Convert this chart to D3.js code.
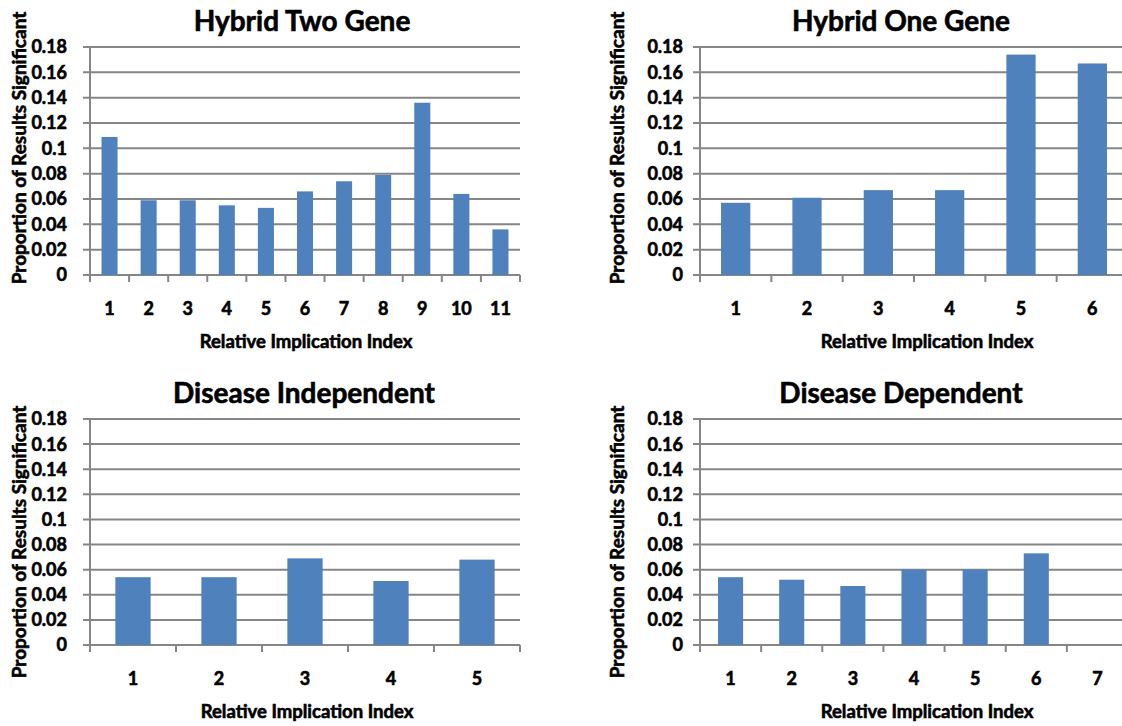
<!DOCTYPE html>
<html>
<head>
<meta charset="utf-8">
<script src="https://cdn.jsdelivr.net/npm/d3@7"></script>
<style>
  html, body { margin: 0; padding: 0; background: #fff; }
  svg { display: block; }
  text { font-family: Lato, "Open Sans", sans-serif; font-weight: bold; fill: #000; stroke: #000; stroke-width: 0.6px; }
</style>
</head>
<body>
<svg id="chart" width="1122" height="726"></svg>
<script>
// Proportion of significant results per relative implication index
const hybridTwoCats = ["1", "2", "3", "4", "5", "6", "7", "8", "9", "10", "11"];
const hybridTwoValues = [0.109, 0.059, 0.059, 0.055, 0.053, 0.066, 0.074, 0.079, 0.136, 0.064, 0.036];

const hybridOneCats = ["1", "2", "3", "4", "5", "6"];
const hybridOneValues = [0.057, 0.061, 0.067, 0.067, 0.174, 0.167];

const indepCats = ["1", "2", "3", "4", "5"];
const indepValues = [0.054, 0.054, 0.069, 0.051, 0.068];

const depCats = ["1", "2", "3", "4", "5", "6", "7"];
const depValues = [0.054, 0.052, 0.047, 0.060, 0.060, 0.073, 0];

const yTicks = [0, 0.02, 0.04, 0.06, 0.08, 0.1, 0.12, 0.14, 0.16, 0.18];
const yTickLabels = ["0", "0.02", "0.04", "0.06", "0.08", "0.1", "0.12", "0.14", "0.16", "0.18"];

const xAxisTitle = "Relative Implication Index";
const yAxisTitle = "Proportion of Results Significant";

const panels = [
  { title: "Hybrid Two Gene", cats: hybridTwoCats, values: hybridTwoValues,
    left: 90, right: 520, top: 47, bottom: 275, titleX: 302, yTitleX: 26, yTitleY: 148, yLabelX: 67, xTitleX: 306 },
  { title: "Hybrid One Gene", cats: hybridOneCats, values: hybridOneValues,
    left: 700, right: 1128, top: 47, bottom: 275, titleX: 901, yTitleX: 624, yTitleY: 148, yLabelX: 683, xTitleX: 927 },
  { title: "Disease Independent", cats: indepCats, values: indepValues,
    left: 90, right: 520, top: 419, bottom: 645, titleX: 304, yTitleX: 26, yTitleY: 542, yLabelX: 67, xTitleX: 307 },
  { title: "Disease Dependent", cats: depCats, values: depValues,
    left: 700, right: 1128, top: 419, bottom: 645, titleX: 901, yTitleX: 624, yTitleY: 542, yLabelX: 683, xTitleX: 927 }
];

const svg = d3.select("#chart");
const gridColor = "#868686";
const barColor = "#4f81bd";
const barRatio = 0.41;

panels.forEach(p => {
  const g = svg.append("g");

  const x = d3.scaleBand().domain(p.cats).range([p.left, p.right]).padding(0);
  const y = d3.scaleLinear().domain([0, 0.18]).range([p.bottom, p.top]);

  // horizontal gridlines with small left tick marks
  g.selectAll("line.grid").data(yTicks).join("line")
    .attr("class", "grid")
    .attr("x1", p.left - 7).attr("x2", p.right)
    .attr("y1", d => y(d)).attr("y2", d => y(d))
    .attr("stroke", gridColor).attr("stroke-width", 2);

  // vertical axis line
  g.append("line")
    .attr("x1", p.left).attr("x2", p.left)
    .attr("y1", y(0.18) - 1).attr("y2", y(0) + 7)
    .attr("stroke", gridColor).attr("stroke-width", 2);

  // x tick marks at category boundaries
  const bounds = p.cats.map(c => x(c)).concat([p.right]);
  g.selectAll("line.xtick").data(bounds).join("line")
    .attr("class", "xtick")
    .attr("x1", d => d).attr("x2", d => d)
    .attr("y1", y(0)).attr("y2", y(0) + 7)
    .attr("stroke", gridColor).attr("stroke-width", 2);

  // bars
  const bw = x.bandwidth() * barRatio;
  g.selectAll("rect.bar").data(p.cats.map((c, i) => ({ c, v: p.values[i] }))).join("rect")
    .attr("class", "bar")
    .attr("x", d => x(d.c) + (x.bandwidth() - bw) / 2)
    .attr("width", bw)
    .attr("y", d => y(d.v))
    .attr("height", d => y(0) - y(d.v))
    .attr("fill", barColor);

  // y tick labels
  g.selectAll("text.ylab").data(yTicks).join("text")
    .attr("class", "ylab")
    .attr("x", p.yLabelX).attr("y", d => y(d))
    .attr("dy", "0.36em")
    .attr("text-anchor", "end")
    .attr("font-size", 18)
    .text((d, i) => yTickLabels[i]);

  // x tick labels
  g.selectAll("text.xlab").data(p.cats).join("text")
    .attr("class", "xlab")
    .attr("x", d => x(d) + x.bandwidth() / 2)
    .attr("y", y(0) + 40)
    .attr("text-anchor", "middle")
    .attr("font-size", 18)
    .text(d => d);

  // titles
  g.append("text")
    .attr("x", p.titleX).attr("y", p.top - 16)
    .attr("text-anchor", "middle")
    .attr("font-size", 28)
    .text(p.title);

  g.append("text")
    .attr("x", p.xTitleX).attr("y", p.bottom + 73)
    .attr("text-anchor", "middle")
    .attr("font-size", 18.5)
    .text(xAxisTitle);

  g.append("text")
    .attr("transform", `translate(${p.yTitleX},${p.yTitleY}) rotate(-90)`)
    .attr("text-anchor", "middle")
    .attr("font-size", 19)
    .text(yAxisTitle);
});
</script>
</body>
</html>
